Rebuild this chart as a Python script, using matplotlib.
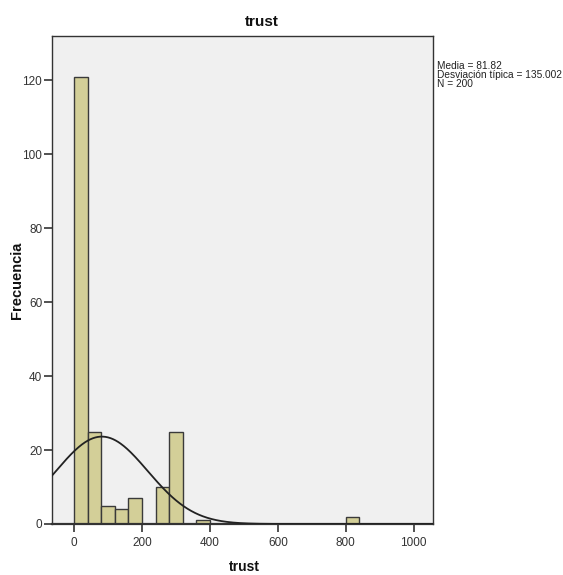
import numpy as np
import matplotlib
matplotlib.use("Agg")
import matplotlib.pyplot as plt

bin_edges = [0, 40, 80, 120, 160, 200, 240, 280, 320, 360, 400, 440, 480, 520, 560,
             600, 640, 680, 720, 760, 800, 840]
counts = [121, 25, 5, 4, 7, 0, 10, 25, 0, 1, 0, 0, 0, 0, 0, 0, 0, 0, 0, 0, 2]
mean = 81.82
std = 135.002
n = 200
x_ticks = [0, 200, 400, 600, 800, 1000]
y_ticks = [0, 20, 40, 60, 80, 100, 120]

plt.rcParams['font.family'] = ['Liberation Sans', 'DejaVu Sans']

W, H = 563, 575
fig = plt.figure(figsize=(W / 100, H / 100), dpi=100)
ax = fig.add_axes([52 / W, 51 / H, 381 / W, 488 / H])
ax.set_facecolor('#F0F0F0')

widths = np.diff(bin_edges)
lefts = np.array(bin_edges[:-1])
mask = np.array(counts) > 0
ax.bar(lefts[mask], np.array(counts)[mask], width=widths[mask], align='edge',
       color='#D3CF98', edgecolor='#3a3a3a', linewidth=1.0, zorder=2)

xmin, xmax = -65, 1057
xs = np.linspace(xmin, xmax, 600)
bw = 40
ys = n * bw / (std * np.sqrt(2 * np.pi)) * np.exp(-0.5 * ((xs - mean) / std) ** 2)
ax.plot(xs, ys, color='#222222', linewidth=1.3, zorder=3)

ax.set_xlim(xmin, xmax)
ax.set_ylim(0, 132)
ax.set_xticks(x_ticks)
ax.set_yticks(y_ticks)
ax.tick_params(axis='both', labelsize=8.5, colors='#333333', length=6, width=1.2,
               direction='out')
ax.tick_params(axis='x', pad=3)
ax.tick_params(axis='y', pad=1)
for s in ax.spines.values():
    s.set_color('#333333')
    s.set_linewidth(1.0)
ax.spines['bottom'].set_linewidth(1.6)

fig.text(262 / W, 1 - 22 / H, 'trust', fontsize=11, fontweight='bold',
         ha='center', va='center', color='#111111')
fig.text(244 / W, 1 - 567 / H, 'trust', fontsize=10, fontweight='bold',
         ha='center', va='center', color='#111111')
fig.text(17 / W, 1 - 280 / H, 'Frecuencia', fontsize=10.5, fontweight='bold',
         rotation=90, ha='center', va='center', color='#111111')

fig.text(437 / W, 1 - 61 / H, 'Media = 81.82\nDesviación típica = 135.002\nN = 200',
         fontsize=7.3, va='top', ha='left', linespacing=0.85, color='#222222')

fig.savefig('out.png', dpi=100)
